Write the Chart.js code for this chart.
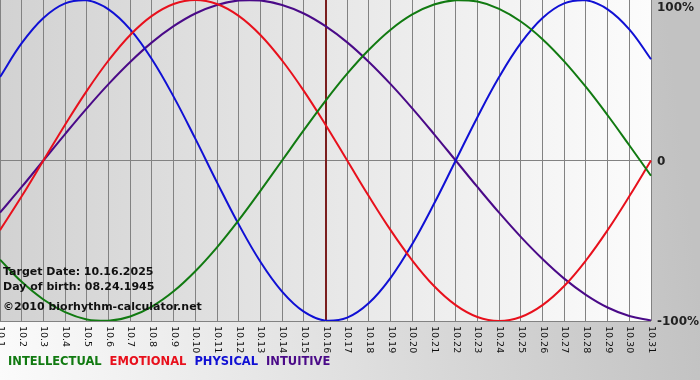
<!DOCTYPE html>
<html>
<head>
<meta charset="utf-8">
<script src="https://cdn.jsdelivr.net/npm/chart.js@4.4.1/dist/chart.umd.min.js"></script>
<style>
  html, body { margin: 0; padding: 0; background: #fff; }
  #wrap { width: 700px; height: 380px; }
</style>
</head>
<body>
<div id="wrap"><canvas id="bioChart" width="700" height="380"></canvas></div>
<script>
const days = ['10.1','10.2','10.3','10.4','10.5','10.6','10.7','10.8','10.9','10.10',
  '10.11','10.12','10.13','10.14','10.15','10.16','10.17','10.18','10.19','10.20',
  '10.21','10.22','10.23','10.24','10.25','10.26','10.27','10.28','10.29','10.30','10.31'];

const intellectual = [-61.8, -75.6, -86.6, -94.5, -99.0, -99.9, -97.2, -91.0, -81.5, -69.0,
  -54.1, -37.2, -18.9, 0, 18.9, 37.2, 54.1, 69.0, 81.5, 91.0,
  97.2, 99.9, 99.0, 94.5, 86.6, 75.6, 61.8, 45.8, 28.2, 9.5, -9.5];
const emotional = [-43.4, -22.3, 0, 22.3, 43.4, 62.3, 78.2, 90.1, 97.5, 100,
  97.5, 90.1, 78.2, 62.3, 43.4, 22.3, 0, -22.3, -43.4, -62.3,
  -78.2, -90.1, -97.5, -100, -97.5, -90.1, -78.2, -62.3, -43.4, -22.3, 0];
const physical = [52.0, 73.1, 88.8, 97.9, 99.8, 94.2, 81.7, 63.1, 39.8, 13.6,
  -13.6, -39.8, -63.1, -81.7, -94.2, -99.8, -97.9, -88.8, -73.1, -52.0,
  -27.0, 0, 27.0, 52.0, 73.1, 88.8, 97.9, 99.8, 94.2, 81.7, 63.1];
const intuitive = [-32.5, -16.5, 0, 16.5, 32.5, 47.6, 61.4, 73.6, 83.7, 91.6,
  96.9, 99.7, 99.7, 96.9, 91.6, 83.7, 73.6, 61.4, 47.6, 32.5,
  16.5, 0, -16.5, -32.5, -47.6, -61.4, -73.6, -83.7, -91.6, -96.9, -99.7];

const yTicks = [100, 0, -100];
const targetDay = '10.16';
const infoLines = ['Target Date: 10.16.2025', 'Day of birth: 08.24.1945', '\u00a92010 biorhythm-calculator.net'];

// background, marker line, tick labels, legend and info text
const decorPlugin = {
    id: 'decor',
    beforeDraw(chart) {
        const ctx = chart.ctx;
        const a = chart.chartArea;
        ctx.save();
        let g = ctx.createLinearGradient(0, 380, 700, 300);
        g.addColorStop(0, '#fbfbfb');
        g.addColorStop(0.45, '#e2e2e2');
        g.addColorStop(1, '#c2c2c2');
        ctx.fillStyle = g;
        ctx.fillRect(0, 0, chart.width, chart.height);
        g = ctx.createLinearGradient(a.left, 0, a.right, 0);
        g.addColorStop(0, '#d2d2d2');
        g.addColorStop(1, '#fcfcfc');
        ctx.fillStyle = g;
        ctx.fillRect(a.left, a.top, a.right - a.left, a.bottom - a.top);
        ctx.restore();
    },
    beforeDatasetsDraw(chart) {
        const ctx = chart.ctx;
        const a = chart.chartArea;
        const x = Math.round(chart.scales.x.getPixelForValue(days.indexOf(targetDay)));
        ctx.save();
        ctx.strokeStyle = '#7a1e1e';
        ctx.lineWidth = 2;
        ctx.beginPath();
        ctx.moveTo(x, a.top);
        ctx.lineTo(x, a.bottom);
        ctx.stroke();
        ctx.restore();
    },
    afterDraw(chart) {
        const ctx = chart.ctx;
        const a = chart.chartArea;
        const xs = chart.scales.x;
        const ys = chart.scales.y;
        ctx.save();

        // rotated day labels
        ctx.fillStyle = '#111';
        ctx.font = '9.5px "DejaVu Sans"';
        ctx.textAlign = 'left';
        ctx.textBaseline = 'middle';
        days.forEach((d, i) => {
            const x = xs.getPixelForValue(i);
            ctx.save();
            ctx.translate(x + 0.5, a.bottom + 5);
            ctx.rotate(Math.PI / 2);
            ctx.fillText(d, 0, 0);
            ctx.restore();
        });

        // right hand percent labels
        ctx.font = 'bold 12px "DejaVu Sans"';
        ctx.fillStyle = '#222';
        yTicks.forEach(v => {
            let y = ys.getPixelForValue(v);
            y = Math.max(y + 1, 8);
            ctx.fillText(v === 0 ? '0' : v + '%', a.right + 6, y);
        });

        // info text
        ctx.font = 'bold 11px "DejaVu Sans"';
        ctx.fillStyle = '#111';
        ctx.fillText(infoLines[0], 3, 272);
        ctx.fillText(infoLines[1], 3, 287);
        ctx.fillText(infoLines[2], 3, 307);

        // legend
        ctx.font = 'bold 11.5px "DejaVu Sans"';
        let lx = 8;
        chart.data.datasets.forEach(ds => {
            ctx.fillStyle = ds.borderColor;
            ctx.fillText(ds.label, lx, 362);
            lx += ctx.measureText(ds.label).width + 8;
        });
        ctx.restore();
    }
};

new Chart(document.getElementById('bioChart').getContext('2d'), {
    type: 'line',
    data: {
        labels: days,
        datasets: [
            { label: 'INTELLECTUAL', data: intellectual, borderColor: '#117a11' },
            { label: 'EMOTIONAL', data: emotional, borderColor: '#e8101c' },
            { label: 'PHYSICAL', data: physical, borderColor: '#1010d4' },
            { label: 'INTUITIVE', data: intuitive, borderColor: '#4a0a88' }
        ]
    },
    options: {
        responsive: false,
        animation: false,
        layout: { padding: { left: 0, top: 0, right: 49, bottom: 59 } },
        elements: {
            point: { radius: 0 },
            line: { borderWidth: 2, tension: 0.4, fill: false }
        },
        plugins: { legend: { display: false }, tooltip: { enabled: false } },
        scales: {
            x: {
                offset: false,
                ticks: { display: false },
                grid: { color: '#828282', lineWidth: 1, drawTicks: false },
                border: { display: false },
                afterFit: s => { s.height = 0; }
            },
            y: {
                min: -100, max: 100,
                ticks: { display: false, stepSize: 100 },
                grid: { color: c => (c.tick && c.tick.value === 100 ? 'rgba(0,0,0,0)' : '#828282'), drawTicks: false },
                border: { display: false },
                afterFit: s => { s.width = 0; }
            }
        }
    },
    plugins: [decorPlugin]
});
</script>
</body>
</html>
